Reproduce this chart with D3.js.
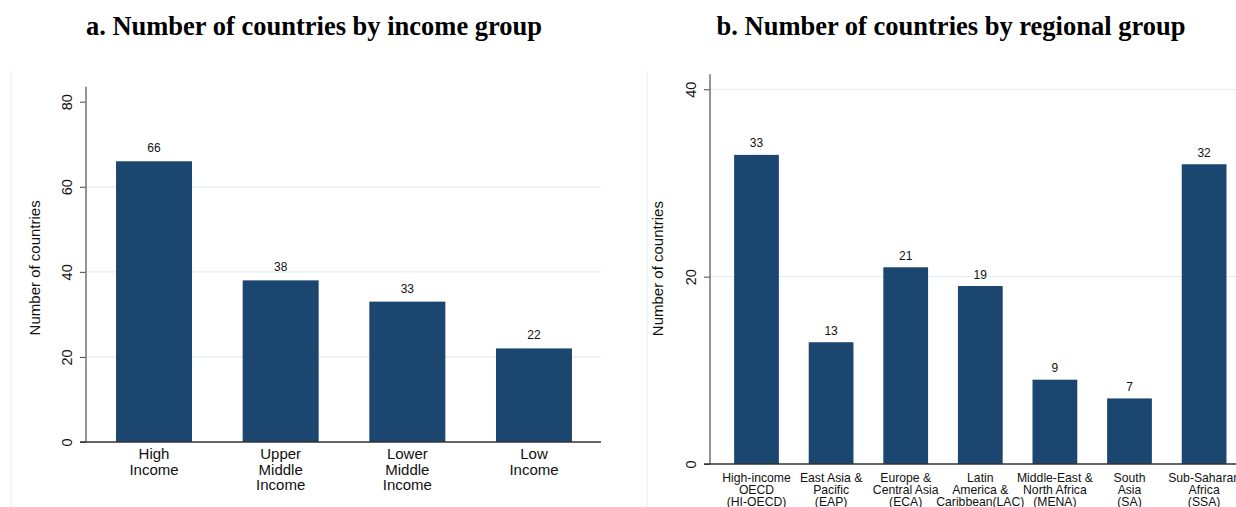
<!DOCTYPE html>
<html><head><meta charset="utf-8">
<script src="https://cdn.jsdelivr.net/npm/d3@7"></script>
<style>
body{margin:0;background:#fff;}
svg{display:block;}
</style></head>
<body>
<svg id="chart" width="1236" height="507"></svg>
<script>
// ---- data ----
const incomeCategories = ["High\nIncome", "Upper\nMiddle\nIncome", "Lower\nMiddle\nIncome", "Low\nIncome"];
const incomeValues = [66, 38, 33, 22];
const incomeTicks = [0, 20, 40, 60, 80];

const regionCategories = ["High-income\nOECD\n(HI-OECD)", "East Asia &\nPacific\n(EAP)", "Europe &\nCentral Asia\n(ECA)", "Latin\nAmerica &\nCaribbean(LAC)", "Middle-East &\nNorth Africa\n(MENA)", "South\nAsia\n(SA)", "Sub-Saharan\nAfrica\n(SSA)"];
const regionValues = [33, 13, 21, 19, 9, 7, 32];
const regionTicks = [0, 20, 40];

const titles = ["a. Number of countries by income group", "b. Number of countries by regional group"];
const yTitle = "Number of countries";

const BAR = "#1b4670";
const GRID = "#e6eef1";
const svg = d3.select("#chart");

function panel(cfg){
  const g = svg.append("g");
  const x = d3.scaleBand().domain(cfg.cats).range(cfg.xr).paddingInner(0.4).paddingOuter(0.2);
  const y = d3.scaleLinear().domain([0, d3.max(cfg.ticks)]).range(cfg.yr);

  // faint panel border
  g.append("line").attr("x1", cfg.border).attr("x2", cfg.border).attr("y1", 71).attr("y2", 507)
    .attr("stroke", "#edf2f4").attr("stroke-width", 1.2);

  // title
  svg.append("text").attr("x", cfg.titleX).attr("y", 35).attr("text-anchor", "middle")
    .attr("font-family", "'Liberation Serif','Times New Roman',serif").attr("font-weight", "bold")
    .attr("font-size", 26.5).attr("fill", "#000").text(cfg.title);

  // gridlines
  g.selectAll(".grid").data(cfg.ticks.filter(t => t > 0 && cfg.gridTop(t))).enter().append("line")
    .attr("x1", cfg.axisX).attr("x2", cfg.plotRight)
    .attr("y1", d => y(d)).attr("y2", d => y(d))
    .attr("stroke", GRID).attr("stroke-width", 1.2);

  // bars
  g.selectAll(".bar").data(cfg.vals).enter().append("rect")
    .attr("x", (d, i) => x(cfg.cats[i]))
    .attr("width", x.bandwidth())
    .attr("y", d => y(d))
    .attr("height", d => y(0) - y(d))
    .attr("fill", BAR);

  // value labels
  g.selectAll(".vl").data(cfg.vals).enter().append("text")
    .attr("x", (d, i) => x(cfg.cats[i]) + x.bandwidth() / 2)
    .attr("y", d => y(d) - cfg.vlOff)
    .attr("text-anchor", "middle")
    .attr("font-family", "'Liberation Sans',Arial,sans-serif").attr("font-size", 12)
    .attr("fill", "#111").text(d => d);

  // y axis
  const ya = g.append("g").attr("transform", `translate(${cfg.axisX},0)`)
    .call(d3.axisLeft(y).tickValues(cfg.ticks).tickSize(6).tickFormat(d3.format("d")));
  ya.select(".domain").remove();
  ya.selectAll(".tick line").attr("stroke", "#444").attr("stroke-width", 1);
  ya.selectAll(".tick text")
    .attr("font-family", "'Liberation Sans',Arial,sans-serif").attr("font-size", 14.5)
    .attr("fill", "#111")
    .attr("transform", "rotate(-90)")
    .attr("x", 0).attr("dx", 0)
    .attr("y", -(cfg.axisX - cfg.tickBase)).attr("dy", 0)
    .attr("text-anchor", "middle");
  g.append("line").attr("x1", cfg.axisX).attr("x2", cfg.axisX)
    .attr("y1", y(0)).attr("y2", y(d3.max(cfg.ticks)) - cfg.axisExtra)
    .attr("stroke", "#7a7a7a").attr("stroke-width", 1.6);

  // x axis
  g.append("line").attr("x1", cfg.axisX - 6).attr("x2", cfg.plotRight)
    .attr("y1", y(0)).attr("y2", y(0)).attr("stroke", "#333").attr("stroke-width", 1.4);
  const xa = g.append("g").attr("transform", `translate(0,${y(0)})`)
    .call(d3.axisBottom(x).tickSize(0).tickFormat(""));
  xa.select(".domain").remove();
  xa.selectAll(".tick").each(function(d){
    const t = d3.select(this).append("text")
      .attr("text-anchor", "middle")
      .attr("font-family", "'Liberation Sans',Arial,sans-serif")
      .attr("font-size", cfg.xFont).attr("fill", "#111");
    d.split("\n").forEach((line, i) => {
      t.append("tspan").attr("x", 0).attr("y", cfg.xFirst + i * cfg.xLine).text(line);
    });
  });

  // y title
  g.append("text")
    .attr("transform", `translate(${cfg.yTitleX},${(y(0) + y(d3.max(cfg.ticks))) / 2 + cfg.yTitleShift}) rotate(-90)`)
    .attr("text-anchor", "middle")
    .attr("font-family", "'Liberation Sans',Arial,sans-serif").attr("font-size", 15)
    .attr("fill", "#111").text(yTitle);
}

panel({
  cats: incomeCategories, vals: incomeValues, ticks: incomeTicks,
  xr: [90.7, 597.3], yr: [442, 101.7],
  axisX: 86, plotRight: 601, border: 10.7, titleX: 314, title: titles[0],
  tickBase: 71.5, axisExtra: 15, gridTop: t => t < 80, vlOff: 9,
  xFont: 15, xFirst: 17, xLine: 15.7, yTitleX: 39.5, yTitleShift: -4
});
panel({
  cats: regionCategories, vals: regionValues, ticks: regionTicks,
  xr: [719.2, 1241.4], yr: [464, 89.3],
  axisX: 710, plotRight: 1245, border: 647.5, titleX: 951, title: titles[1],
  tickBase: 696, axisExtra: 15, gridTop: t => true, vlOff: 7.5,
  xFont: 12.2, xFirst: 17.7, xLine: 12, yTitleX: 663, yTitleShift: -8
});
</script>
</body></html>
